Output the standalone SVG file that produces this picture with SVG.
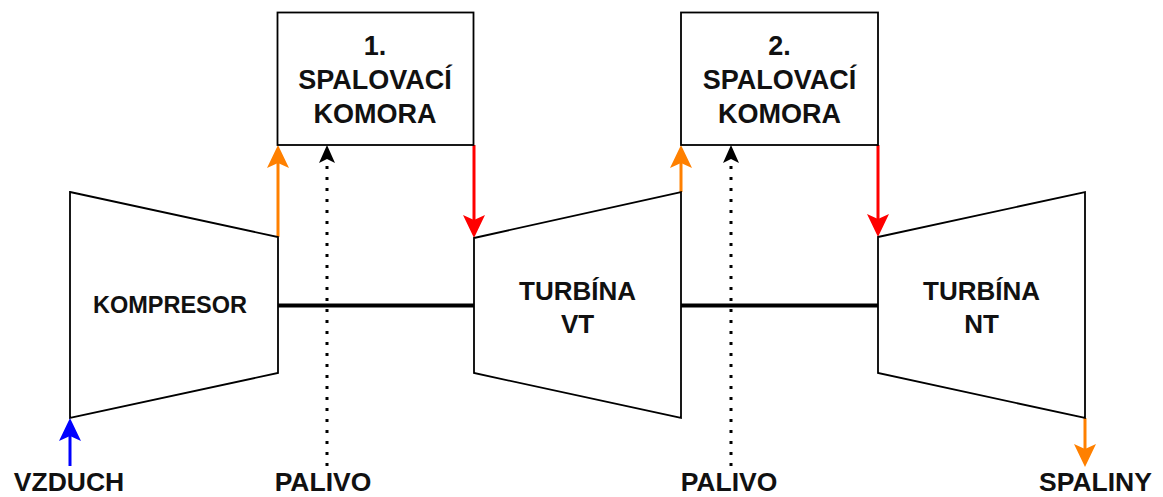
<svg xmlns="http://www.w3.org/2000/svg" width="1163" height="497" viewBox="0 0 1163 497">
  <style>
    .shape { fill: #ffffff; stroke: #000000; stroke-width: 1.8; stroke-linejoin: miter; }
    .lbl { font-family: "Liberation Sans", Arial, sans-serif; font-weight: bold; fill: #111111; text-anchor: middle; }
    .big { font-size: 27px; }
    .low { font-size: 26.5px; }
    .mid { font-size: 26px; }
    .small { font-size: 23.5px; }
    .shaft { stroke: #000000; stroke-width: 4; fill: none; }
    .flow { fill: none; stroke-width: 3; }
    .fuel { fill: none; stroke: #000000; stroke-width: 3; stroke-dasharray: 3 8; }
    .orange { stroke: #FF8000; }
    .red { stroke: #FF0000; }
    .blue { stroke: #0000FF; }
    .headOrange { fill: #FF8000; }
    .headRed { fill: #FF0000; }
    .headBlue { fill: #0000FF; }
    .headBlack { fill: #000000; }
  </style>

  <rect width="1163" height="497" fill="#ffffff"/>

  <!-- shafts and flow connectors; notched heads drawn at each end point -->
  <g id="connectors">
    <line class="shaft" x1="278" y1="305.5" x2="474" y2="305.5"/>
    <line class="shaft" x1="681" y1="305.5" x2="878" y2="305.5"/>

    <!-- air inlet -->
    <line class="flow blue" x1="70" y1="466" x2="70" y2="436"/>
    <polygon class="headBlue" points="70,418 59,441 70,436 81,441"/>

    <!-- compressed air to 1st chamber -->
    <line class="flow orange" x1="278" y1="237" x2="278" y2="163"/>
    <polygon class="headOrange" points="278,145 267,168 278,163 289,168"/>

    <!-- hot gas to HP turbine -->
    <line class="flow red" x1="474" y1="145" x2="474" y2="220"/>
    <polygon class="headRed" points="474,238 463,215 474,220 485,215"/>

    <!-- HP exhaust to 2nd chamber -->
    <line class="flow orange" x1="681" y1="192" x2="681" y2="163"/>
    <polygon class="headOrange" points="681,145 670,168 681,163 692,168"/>

    <!-- hot gas to LP turbine -->
    <line class="flow red" x1="878" y1="145" x2="878" y2="219"/>
    <polygon class="headRed" points="878,237 867,214 878,219 889,214"/>

    <!-- flue gas out -->
    <line class="flow orange" x1="1085" y1="418" x2="1085" y2="449"/>
    <polygon class="headOrange" points="1085,467 1074,444 1085,449 1096,444"/>

    <!-- fuel feeds -->
    <line class="fuel" x1="327" y1="466" x2="327" y2="159"/>
    <polygon class="headBlack" points="327,145 319,163 327,159 335,163"/>
    <line class="fuel" x1="731" y1="466" x2="731" y2="159"/>
    <polygon class="headBlack" points="731,145 723,163 731,159 739,163"/>
  </g>

  <g id="kompresor">
    <polygon class="shape" points="70,192 278,237 278,373 70,418"/>
    <text class="lbl small" x="170" y="313">KOMPRESOR</text>
  </g>

  <g id="komora1">
    <rect class="shape" x="277.5" y="12.5" width="196" height="132.5"/>
    <text class="lbl big" x="375" y="55">1.</text>
    <text class="lbl big" x="375" y="89">SPALOVACÍ</text>
    <text class="lbl big" x="375" y="122.5">KOMORA</text>
  </g>

  <g id="turbina-vt">
    <polygon class="shape" points="474,238 681,192 681,418 474,373"/>
    <text class="lbl mid" x="577.5" y="300">TURBÍNA</text>
    <text class="lbl mid" x="577.5" y="333">VT</text>
  </g>

  <g id="komora2">
    <rect class="shape" x="681" y="12.5" width="197" height="132.5"/>
    <text class="lbl big" x="779.5" y="55">2.</text>
    <text class="lbl big" x="779.5" y="89">SPALOVACÍ</text>
    <text class="lbl big" x="779.5" y="122.5">KOMORA</text>
  </g>

  <g id="turbina-nt">
    <polygon class="shape" points="878,237 1085,192 1085,418 878,373"/>
    <text class="lbl mid" x="981.5" y="300">TURBÍNA</text>
    <text class="lbl mid" x="981.5" y="333">NT</text>
  </g>

  <g id="vzduch">
    <text class="lbl low" x="69" y="491">VZDUCH</text>
  </g>
  <g id="palivo1">
    <text class="lbl low" x="323" y="491">PALIVO</text>
  </g>
  <g id="palivo2">
    <text class="lbl low" x="729" y="491">PALIVO</text>
  </g>
  <g id="spaliny">
    <text class="lbl low" x="1095.5" y="491">SPALINY</text>
  </g>
</svg>
